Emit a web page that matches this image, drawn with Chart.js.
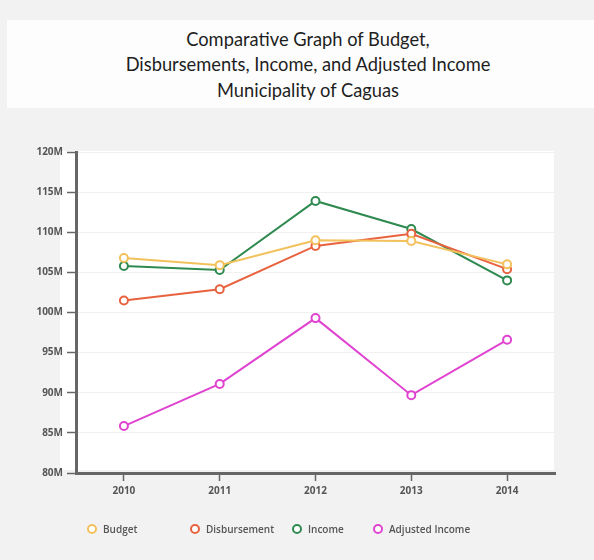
<!DOCTYPE html>
<html>
<head>
<meta charset="utf-8">
<script src="https://cdn.jsdelivr.net/npm/chart.js@4/dist/chart.umd.min.js"></script>
<style>
  body { margin: 0; background: #f2f2f2; font-family: Lato, "Open Sans", sans-serif; }
  #page { position: relative; width: 594px; height: 560px; overflow: hidden; }
  #cabecera { position: absolute; left: 7px; top: 20px; width: 587px; height: 88px; background: #fdfdfd; }
  #cabecera div { position: absolute; left: -7px; width: 616px; text-align: center; font-size: 18.3px; line-height: 22px; color: #1e1e1e; }
  #panel { position: absolute; left: 60px; top: 151px; width: 494px; height: 319px; background: #fff; }
  #grafico { position: absolute; left: 0; top: 108px; }
  #leyenda { position: absolute; top: 522px; left: 0; width: 594px; height: 16px; font-family: "Open Sans", sans-serif; font-size: 10px; font-weight: 600; color: #555; }
  #leyenda span.item { position: absolute; top: 0; white-space: nowrap; }
  #leyenda i { display: inline-block; width: 6px; height: 6px; border: 2px solid; border-radius: 50%; background: #fff; vertical-align: -1px; margin-right: 6px; }
</style>
</head>
<body>
<div id="page">
  <div id="cabecera">
    <div style="top: 8px">Comparative Graph of Budget,</div>
    <div style="top: 33px">Disbursements, Income, and Adjusted Income</div>
    <div style="top: 59px">Municipality of Caguas</div>
  </div>
  <div id="panel"></div>
  <canvas id="grafico" width="594" height="452"></canvas>
  <div id="leyenda"></div>
</div>
<script>
  const anios = ['2010', '2011', '2012', '2013', '2014'];
  const presupuesto = [106.8, 105.9, 109.0, 108.9, 106.0];
  const desembolsos = [101.5, 102.9, 108.3, 109.8, 105.4];
  const ingresos = [105.8, 105.3, 113.9, 110.4, 104.0];
  const ingresosAjustados = [85.85, 91.1, 99.3, 89.7, 96.6];
  const nombres = ['Budget', 'Disbursement', 'Income', 'Adjusted Income'];
  const colores = ['#f2c15c', '#e9623f', '#2f8a50', '#e043d0'];

  const series = [presupuesto, desembolsos, ingresos, ingresosAjustados];

  const datasets = series.map((valores, i) => ({
    label: nombres[i],
    data: valores,
    borderColor: colores[i],
    backgroundColor: '#ffffff',
    pointBackgroundColor: '#ffffff',
    pointBorderColor: colores[i],
    pointRadius: 4,
    pointBorderWidth: 2,
    borderWidth: 2,
    tension: 0,
    fill: false
  }));

  const fuenteEje = { family: '"Open Sans", sans-serif', size: 10, weight: 'bold' };

  new Chart(document.getElementById('grafico').getContext('2d'), {
    type: 'line',
    data: { labels: anios, datasets: datasets },
    options: {
      responsive: false,
      animation: false,
      layout: { padding: { left: 0, right: 39, top: 44, bottom: 50 } },
      plugins: { legend: { display: false }, tooltip: { enabled: false } },
      scales: {
        x: {
          offset: true,
          grid: { offset: false, drawOnChartArea: false, tickLength: 8, tickColor: '#666', tickWidth: 1.5 },
          border: { color: '#666', width: 3 },
          ticks: { color: '#555', font: fuenteEje, padding: 4 },
          afterFit: s => { s.height = 37; }
        },
        y: {
          min: 80,
          max: 120,
          ticks: { stepSize: 5, color: '#555', font: fuenteEje, padding: 4, callback: v => v + 'M' },
          grid: { color: '#f1f1f1', lineWidth: 1, tickLength: 9, tickColor: '#666', tickWidth: 1.5 },
          border: { color: '#666', width: 3 },
          afterFit: s => { s.width = 76; }
        }
      }
    }
  });

  // leyenda propia, con las posiciones de cada entrada
  const posLeyenda = [87, 190, 292, 373];
  const leyenda = document.getElementById('leyenda');
  nombres.forEach((n, i) => {
    const item = document.createElement('span');
    item.className = 'item';
    item.style.left = posLeyenda[i] + 'px';
    item.innerHTML = `<i style="border-color:${colores[i]}"></i>${n}`;
    leyenda.appendChild(item);
  });
</script>
</body>
</html>
